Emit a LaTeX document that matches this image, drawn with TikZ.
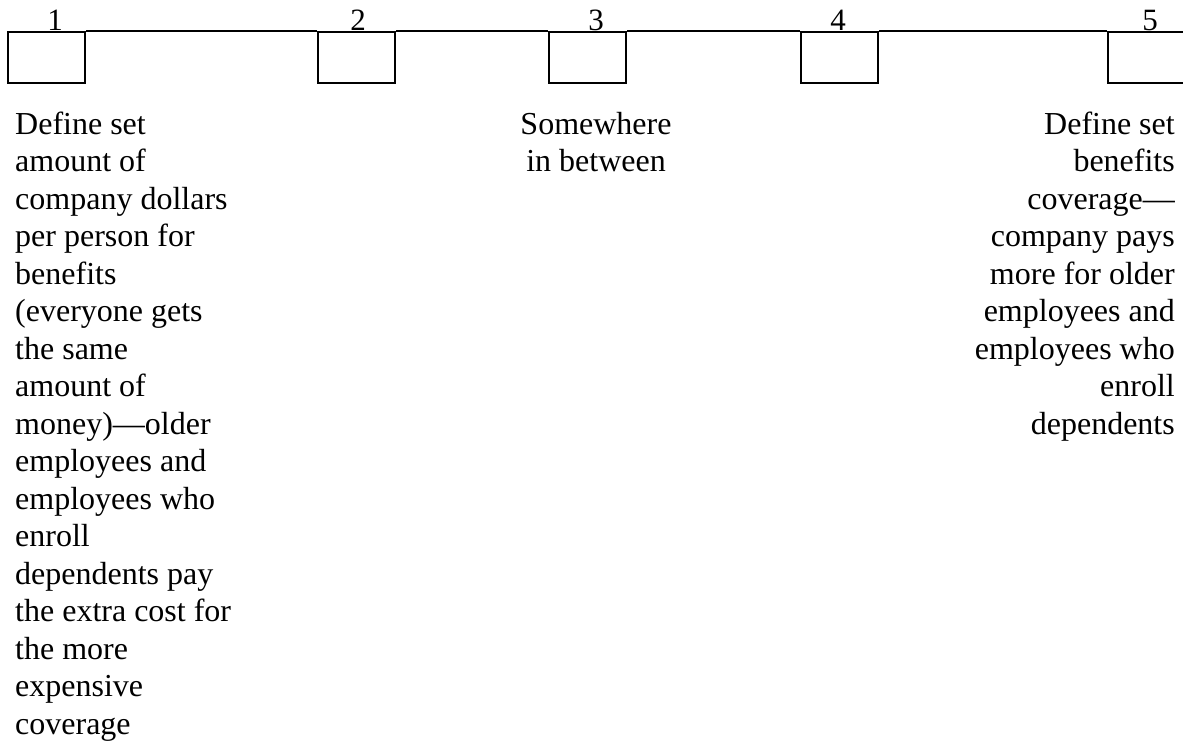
\documentclass[tikz,border=0pt]{standalone}
\usepackage{fontspec}
\setmainfont{Liberation Serif}
\begin{document}
\begin{tikzpicture}[x=1pt,y=-1pt,
  scalebox/.style={draw, line width=2pt, minimum width=77pt, minimum height=51pt, inner sep=0pt},
  rail/.style={line width=1.3pt},
  txt/.style={inner sep=0pt, font=\fontsize{32}{37.5}\selectfont},
  numlabel/.style={inner sep=0pt, anchor=base, font=\fontsize{31}{37.5}\selectfont}]
\useasboundingbox (0,0) rectangle (1183,745);

% the five boxes of the scale
\node[scalebox] (b1) at (46.5,57.5) {};
\node[scalebox] (b2) at (356.5,57.5) {};
\node[scalebox] (b3) at (587.5,57.5) {};
\node[scalebox] (b4) at (839.5,57.5) {};
\node[scalebox] (b5) at (1146.5,57.5) {};
\coordinate (railend) at (1200,32.5);

% the line joining them along their top edges
\draw[rail] (b1.north east) -- (b2.north west);
\draw[rail] (b2.north east) -- (b3.north west);
\draw[rail] (b3.north east) -- (b4.north west);
\draw[rail] (b4.north east) -- (b5.north west);
\draw[rail] (b5.north east) -- (railend);

% numbers above the boxes
\node[numlabel] (n1) at (55,30) {1};
\node[numlabel] (n2) at (358,30) {2};
\node[numlabel] (n3) at (596,30) {3};
\node[numlabel] (n4) at (838,30) {4};
\node[numlabel] (n5) at (1150,30) {5};

% descriptions under the scale
\node[txt, anchor=base west] (left) at (15,134) {\parbox[t]{300pt}{\raggedright
Define set\\amount of\\company dollars\\per person for\\benefits\\(everyone gets\\the same\\amount of\\money)—older\\employees and\\employees who\\enroll\\dependents pay\\the extra cost for\\the more\\expensive\\coverage}};

\node[txt, anchor=base] (mid) at (596,134) {\parbox[t]{300pt}{\centering
Somewhere\\in between}};

\node[txt, anchor=base east] (right) at (1175,134) {\parbox[t]{300pt}{\raggedleft
Define set\\benefits\\coverage—\\company pays\\more for older\\employees and\\employees who\\enroll\\dependents}};
\end{tikzpicture}
\end{document}
